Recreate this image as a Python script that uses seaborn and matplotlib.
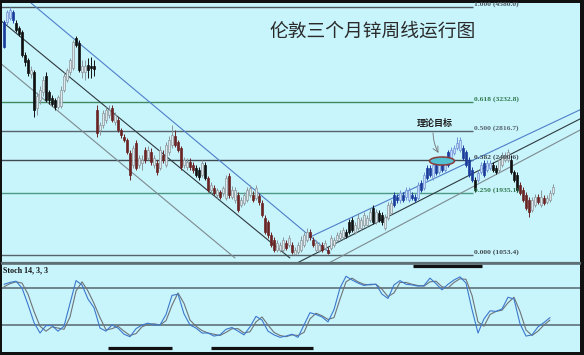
import numpy as np
import pandas as pd
import matplotlib
matplotlib.use("Agg")
import matplotlib.pyplot as plt
from matplotlib.patches import Ellipse
import seaborn as sns

# ------------------------------
# weekly LME 3M zinc, OHLC (USD/t)
# ------------------------------
opens = [4367, 4367, 4424, 4509, 4352, 4281, 4224, 3898, 3826, 3627,
         3656, 3144, 3258, 3371, 3599, 3371, 3286, 3258, 3158, 3172,
         3400, 3542, 3656, 3713, 4139, 4068, 3656, 3656, 3755, 3741,
         3741, 3115, 2831, 2902, 2973, 3044, 3144, 2945, 2973, 2831,
         2731, 2689, 2504, 2333, 2646, 2333, 2362, 2546, 2433, 2518,
         2333, 2362, 2291, 2475, 2333, 2518, 2618, 2746, 2660, 2575,
         2333, 2305, 2376, 2333, 2291, 2262, 2191, 2333, 2148, 1978,
         2006, 1907, 1949, 1935, 1864, 2177, 1878, 1835, 1907, 1764,
         1793, 1835, 1907, 1907, 1864, 1892, 1793, 1580, 1523, 1338,
         1267, 1125, 1125, 1125, 1224, 1196, 1196, 1068, 1096, 1125,
         1196, 1267, 1381, 1267, 1125, 1125, 1196, 1153, 1125, 1153,
         1196, 1267, 1295, 1309, 1381, 1523, 1551, 1381, 1438, 1438,
         1480, 1480, 1551, 1722, 1523, 1651, 1622, 1438, 1580, 1651,
         1907, 1878, 1835, 1907, 1878, 1835, 1907, 1878, 1864, 2077,
         2006, 2291, 2291, 2148, 2333, 2234, 2404, 2262, 2518, 2404,
         2504, 2575, 2546, 2575, 2518, 2404, 2262, 2120, 2120, 2234,
         2362, 2262, 2291, 2333, 2291, 2262, 2333, 2404, 2404, 2404,
         2234, 2191, 2049, 1978, 1907, 1835, 1693, 1764, 1878, 1764,
         1864, 1807, 1835, 1935]
highs = [4395, 4537, 4580, 4537, 4395, 4310, 4253, 3940, 3855, 3741,
         3684, 3371, 3457, 3599, 3656, 3400, 3329, 3286, 3329, 3457,
         3656, 3713, 3855, 4111, 4168, 4111, 3826, 3826, 3855, 3869,
         3826, 3186, 2945, 3115, 3158, 3186, 3186, 3087, 3016, 2859,
         2774, 2717, 2546, 2618, 2689, 2475, 2475, 2589, 2603, 2575,
         2475, 2404, 2603, 2546, 2660, 2746, 2902, 2831, 2689, 2603,
         2447, 2433, 2433, 2376, 2333, 2305, 2404, 2376, 2177, 2091,
         2049, 2006, 1978, 2035, 2191, 2220, 2035, 2020, 1949, 1878,
         1949, 2020, 2049, 1963, 2049, 1935, 1835, 1622, 1551, 1381,
         1309, 1267, 1238, 1309, 1267, 1338, 1238, 1167, 1238, 1324,
         1381, 1438, 1423, 1309, 1267, 1238, 1238, 1267, 1167, 1338,
         1309, 1381, 1409, 1452, 1423, 1565, 1594, 1523, 1651, 1594,
         1665, 1622, 1722, 1764, 1707, 1693, 1665, 1636, 1807, 1835,
         1949, 1921, 1978, 1949, 2020, 2020, 1949, 1921, 2091, 2120,
         2234, 2333, 2333, 2376, 2376, 2376, 2447, 2419, 2546, 2589,
         2618, 2731, 2731, 2618, 2546, 2447, 2305, 2163, 2262, 2376,
         2404, 2404, 2404, 2376, 2333, 2447, 2518, 2518, 2561, 2475,
         2262, 2234, 2091, 2020, 1949, 1878, 1878, 1921, 1921, 1978,
         1907, 1907, 1978, 2063]
lows = [3997, 4324, 4395, 4352, 4224, 4168, 3869, 3741, 3599, 3570,
        3016, 3044, 3201, 3314, 3229, 3201, 3172, 3115, 3130, 3144,
        3371, 3513, 3613, 3684, 4011, 3656, 3570, 3542, 3570, 3570,
        3599, 2731, 2760, 2859, 2930, 3002, 2945, 2902, 2803, 2717,
        2660, 2490, 2120, 2291, 2262, 2291, 2262, 2362, 2404, 2333,
        2291, 2191, 2262, 2362, 2305, 2475, 2575, 2589, 2518, 2262,
        2291, 2262, 2262, 2220, 2163, 2120, 2163, 2120, 1949, 1935,
        1907, 1864, 1850, 1892, 1835, 1864, 1850, 1793, 1665, 1736,
        1764, 1807, 1878, 1807, 1835, 1764, 1594, 1352, 1295, 1167,
        1096, 1096, 1096, 1096, 1125, 1167, 1068, 1053, 1068, 1096,
        1167, 1238, 1267, 1167, 1096, 1096, 1096, 1125, 1068, 1125,
        1167, 1238, 1267, 1281, 1295, 1352, 1381, 1352, 1409, 1409,
        1452, 1452, 1523, 1494, 1494, 1523, 1480, 1409, 1551, 1622,
        1736, 1793, 1793, 1807, 1835, 1807, 1835, 1807, 1835, 1949,
        1978, 2120, 2163, 2120, 2191, 2205, 2234, 2234, 2305, 2376,
        2475, 2546, 2518, 2404, 2305, 2163, 2091, 1949, 2091, 2205,
        2163, 2234, 2262, 2234, 2205, 2234, 2305, 2376, 2376, 2205,
        2091, 1949, 1907, 1807, 1693, 1594, 1665, 1736, 1779, 1736,
        1764, 1779, 1807, 1907]
closes = [4011, 4509, 4537, 4395, 4253, 4196, 3898, 3798, 3641, 3684,
          3115, 3314, 3400, 3542, 3258, 3258, 3201, 3158, 3300, 3400,
          3599, 3684, 3826, 4082, 4040, 3684, 3741, 3741, 3684, 3713,
          3698, 2788, 2902, 3073, 3115, 3115, 2973, 3044, 2831, 2760,
          2689, 2518, 2191, 2575, 2291, 2433, 2404, 2404, 2546, 2376,
          2433, 2234, 2546, 2404, 2618, 2689, 2760, 2618, 2546, 2305,
          2404, 2376, 2305, 2262, 2191, 2163, 2362, 2148, 1978, 2049,
          1935, 1978, 1878, 2006, 2148, 1907, 1978, 1978, 1693, 1835,
          1907, 1978, 2006, 1835, 2006, 1807, 1622, 1381, 1338, 1196,
          1125, 1224, 1196, 1267, 1153, 1295, 1096, 1125, 1196, 1267,
          1338, 1381, 1309, 1196, 1224, 1196, 1125, 1224, 1082, 1295,
          1267, 1338, 1366, 1409, 1324, 1381, 1409, 1480, 1580, 1551,
          1622, 1580, 1665, 1523, 1665, 1551, 1523, 1594, 1764, 1793,
          1764, 1835, 1935, 1835, 1978, 1978, 1864, 1835, 2049, 1978,
          2191, 2148, 2191, 2333, 2220, 2333, 2262, 2376, 2333, 2546,
          2575, 2646, 2689, 2433, 2333, 2191, 2120, 1978, 2220, 2333,
          2191, 2362, 2362, 2262, 2234, 2404, 2475, 2475, 2518, 2234,
          2120, 1978, 1935, 1835, 1722, 1665, 1835, 1878, 1807, 1878,
          1793, 1864, 1935, 2020]

# Stoch 14,3,3 (%K, %D), read every second week
stoch_k = [86, 89, 91, 80, 53, 24, 7, 19, 19, 10,
           18, 55, 92, 85, 62, 48, 15, 10, 20, 15,
           5, 1, 14, 20, 23, 20, 20, 37, 68, 70,
           38, 20, 15, 7, 7, 2, 4, 13, 16, 10,
           4, 17, 34, 28, 10, 4, 0, 2, 5, 0,
           20, 40, 37, 33, 25, 45, 80, 99, 93, 88,
           84, 86, 86, 70, 63, 85, 92, 86, 85, 83,
           84, 96, 87, 77, 86, 93, 98, 88, 45, 7,
           30, 43, 42, 46, 65, 62, 22, 2, 4, 17,
           24, 32]
stoch_d = [82, 87, 90, 88, 70, 42, 18, 10, 17, 15,
           13, 33, 75, 90, 75, 55, 32, 12, 14, 18,
           10, 3, 6, 17, 21, 22, 20, 27, 52, 72,
           55, 28, 18, 11, 7, 5, 3, 8, 14, 14,
           7, 9, 25, 33, 20, 8, 3, 1, 4, 3,
           8, 30, 39, 35, 29, 32, 62, 90, 96, 90,
           86, 85, 86, 78, 66, 72, 89, 89, 86, 84,
           83, 90, 91, 82, 80, 89, 95, 94, 68, 25,
           18, 37, 42, 44, 56, 65, 42, 12, 3, 10,
           20, 28]

# Fibonacci retracement between the 2006 high and the 2008 low
fib_high = 4580.0
fib_low = 1053.4
fib_levels = [1.0, 0.618, 0.5, 0.382, 0.25, 0.0]

# trend channels as (week, price) end points
down_channel = [((9, 4637), (108.7, 1082)),
                ((-1.3, 4395), (95.3, 1011)),
                ((-1.3, 3784), (77, 1011))]
up_channel = [((101.3, 1295), (193.3, 3144)),
              ((97.7, 940), (193.3, 3016)),
              ((107, 911), (193.3, 2859))]
target_week, target_price = 146, 2390

# weeks marked with black bars (divergence spans)
stoch_marks = [(34.7, 56), (69, 103)]
top_mark = (136.3, 159.3)

# ------------------------------
# styling
# ------------------------------
sns.set_style("white")
plt.rcParams["font.family"] = ["Noto Sans CJK SC", "DejaVu Sans"]

bg = "#c8f4fc"
zone_starts = [0, 4, 31, 64, 68, 114, 130, 157, 158, 163, 172]
zone_tones = ["blue", "black", "red", "black", "red", "black",
              "blue", "black", "blue", "black", "red"]
solid = {"blue": "#1c3c9c", "black": "#111111", "red": "#6a2424"}
hollow_edge = {"blue": "#6f92d6", "black": "#8b969b", "red": "#8b969b"}
hollow_fill = {"blue": "#c4dcf6", "black": "#dde9ec", "red": "#dde9ec"}

n = len(closes)
weeks = np.arange(n)
tone = []
for w in weeks:
    k = max(j for j, s in enumerate(zone_starts) if s <= w)
    tone.append(zone_tones[k])

fig = plt.figure(figsize=(5.84, 3.55), dpi=100)
fig.patch.set_facecolor("#111111")
ax = fig.add_axes([2 / 584, 1 - 263 / 355, 578 / 584, 260 / 355])
ax2 = fig.add_axes([2 / 584, 3 / 355, 578 / 584, 88 / 355])
for a in (ax, ax2):
    a.set_facecolor(bg)
    a.set_xticks([])
    a.set_yticks([])
    a.set_xlim(-0.67, 192)
    for s in a.spines.values():
        s.set_visible(False)
ax.spines["bottom"].set_visible(True)
ax.spines["bottom"].set_color("#5f6f76")
ax.spines["bottom"].set_linewidth(1.6)
ax.set_ylim(939.6, 4636.9)
ax2.set_ylim(-23.8, 118.9)

# fib levels
fib_colors = {1.0: "#4a565c", 0.618: "#3d8a5e", 0.5: "#55646c",
              0.382: "#3f4b50", 0.25: "#4c9a82", 0.0: "#55646c"}
fib_text = {1.0: "#4a565c", 0.618: "#2f7a4e", 0.5: "#55646c",
            0.382: "#3f4b50", 0.25: "#2f7a4e", 0.0: "#3f4b50"}
for f in fib_levels:
    price = fib_low + f * (fib_high - fib_low)
    ax.hlines(price, -1, 156.3, colors=fib_colors[f], lw=1.0, zorder=1)
    ax.annotate(f"{f:.3f} ({price:.1f})", xy=(156.3, price), xytext=(1, 2.2),
                textcoords="offset points", va="center", ha="left",
                fontsize=5.4, color=fib_text[f], family="Liberation Serif",
                fontweight="bold", zorder=5)

# channels
chan_colors = ["#4f7fc8", "#2e3a3e", "#7d8a8e"]
for (p0, p1), c in zip(down_channel, chan_colors):
    ax.plot([p0[0], p1[0]], [p0[1], p1[1]], color=c, lw=0.8, zorder=2)
for (p0, p1), c in zip(up_channel, chan_colors):
    ax.plot([p0[0], p1[0]], [p0[1], p1[1]], color=c, lw=0.8, zorder=2)

# candles
o = np.array(opens); h = np.array(highs); l = np.array(lows); c = np.array(closes)
up = c >= o
wick_col = [hollow_edge[t] if u else solid[t] for t, u in zip(tone, up)]
face = [hollow_fill[t] if u else solid[t] for t, u in zip(tone, up)]
ax.vlines(weeks, l, h, colors=wick_col, lw=0.7, zorder=3)
ax.bar(weeks, np.abs(c - o) + 8, bottom=np.minimum(o, c) - 4, width=0.85,
       color=face, edgecolor=wick_col, linewidth=0.5, zorder=4)

# target ellipse + note
ax.add_patch(Ellipse((target_week, target_price), 8.3, 114, facecolor="#52c2d2",
                     edgecolor="#8a3a3a", lw=1.1, zorder=6))
ax.annotate("", xy=(target_week - 0.7, target_price + 80),
            xytext=(target_week - 3, target_price + 440),
            arrowprops=dict(arrowstyle="->", color="#707070", lw=0.6,
                            connectionstyle="arc3,rad=0.15"), zorder=6)
ax.text(target_week - 2.3, target_price + 530, "理论目标", fontsize=6.5,
        fontweight="bold", color="#202020", ha="center", va="center", zorder=6)

ax.text(0.642, 0.89, "伦敦三个月锌周线运行图", transform=ax.transAxes,
        fontsize=13.5, color="#2a2a2a", ha="center", va="center")

# stochastic panel
ax2.spines["top"].set_visible(True)
ax2.spines["top"].set_color("#5f6f76")
ax2.spines["top"].set_linewidth(1.2)
ax2.hlines([80, 20], -1, 193, colors="#56666e", lw=1.1, zorder=1)
stoch = pd.DataFrame({"week": np.arange(0, n, 2), "K": stoch_k, "D": stoch_d})
sns.lineplot(data=stoch, x="week", y="D", ax=ax2, color="#6e7478", lw=0.8, zorder=3)
sns.lineplot(data=stoch, x="week", y="K", ax=ax2, color="#3d78cc", lw=0.8, zorder=4)
ax2.set_xlabel("")
ax2.set_ylabel("")
ax2.set_xticks([])
ax2.set_yticks([])
for a0, a1 in stoch_marks:
    ax2.hlines(-17.3, a0, a1, colors="#111111", lw=2.3, zorder=5)
ax2.hlines(116.3, top_mark[0], top_mark[1], colors="#111111", lw=2.3, zorder=5)
ax2.text(1 / 578, 0.93, "Stoch 14, 3, 3", transform=ax2.transAxes, fontsize=5.8,
         fontweight="bold", family="Liberation Serif", color="#111111",
         ha="left", va="center")

fig.savefig("out.png", dpi=100, facecolor=fig.get_facecolor())
